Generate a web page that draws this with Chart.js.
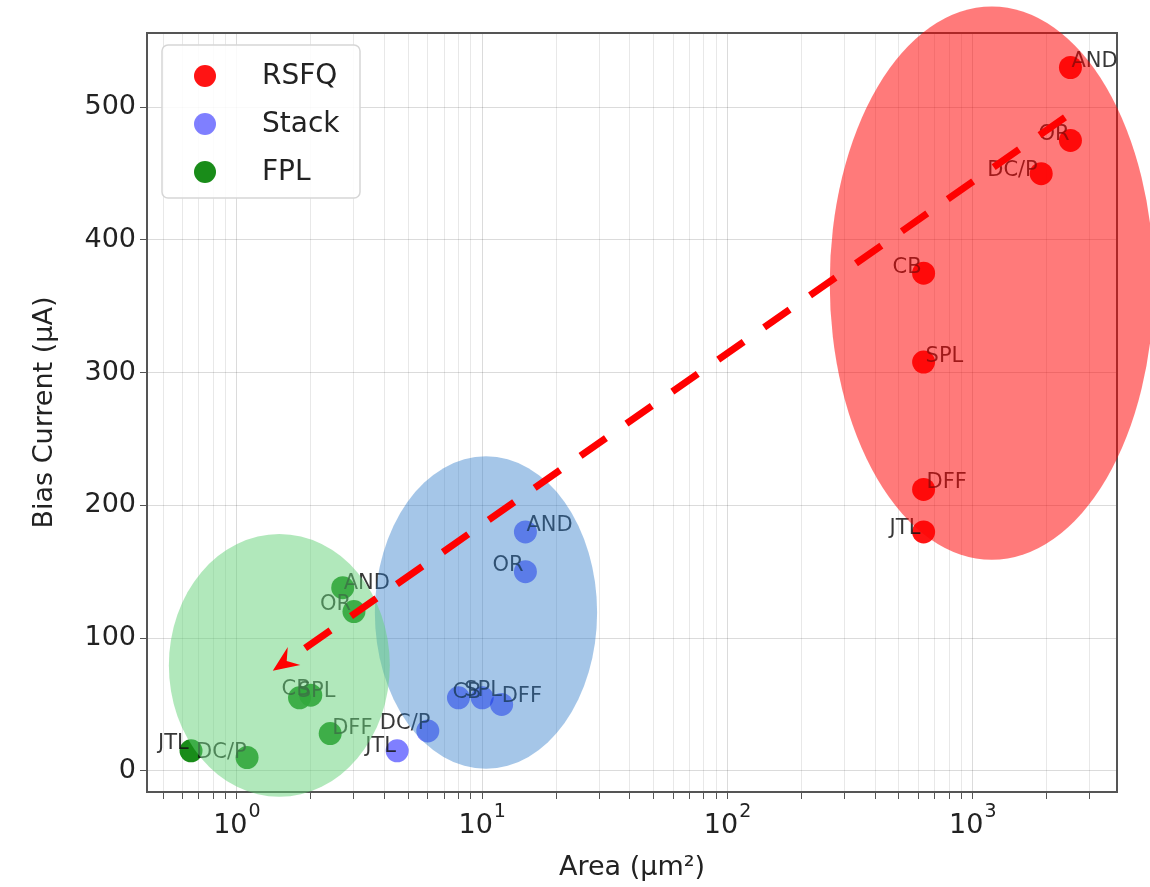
<!DOCTYPE html>
<html>
<head>
<meta charset="utf-8">
<script src="https://cdn.jsdelivr.net/npm/chart.js@4.4.0/dist/chart.umd.min.js"></script>
<style>
  html, body { margin: 0; padding: 0; background: #fff; }
  #wrap { width: 1150px; height: 887px; }
</style>
</head>
<body>
<div id="wrap"><canvas id="chart" width="1150" height="887"></canvas></div>
<script>
// gate names, same order in every group
const gateNames = ['AND', 'OR', 'DC/P', 'CB', 'SPL', 'DFF', 'JTL'];

// area (um^2) and bias current (uA) per group
const rsfqArea = [2500, 2500, 1900, 630, 630, 630, 630];
const rsfqBias = [530, 475, 450, 375, 308, 212, 180];

const stackArea = [15, 15, 6, 8, 10, 12, 4.5];
const stackBias = [180, 150, 30, 55, 55, 50, 15];

const fplArea = [2.7, 3.0, 1.1, 1.8, 2.0, 2.4, 0.65];
const fplBias = [138, 120, 10, 55, 57, 28, 15];

// axis ticks
const xDecades = [0.1, 1, 10, 100, 1000];
const yTickValues = [0, 100, 200, 300, 400, 500];

// highlighted regions, data bounds [xmin, xmax, ymin, ymax]
const rsfqRegion = [261, 5470, 159, 576];
const stackRegion = [3.65, 29.4, 1.5, 237];
const fplRegion = [0.528, 4.2, -19.6, 178.5];

// trend arrow, data coords [area, bias]
const arrowFrom = [2375, 492.5];
const arrowTo = [1.40, 75.3];

// label placement (pixel nudges, text left / baseline from point centre)
const rsfqLabelPos = [[1, -1], [-32, 0], [-54, 2], [-31, 0], [2, 0], [3, -1], [-34, 2]];
const stackLabelPos = [[1, -1], [-33, -1], [-48, -2], [-6, 0], [-18, -2], [0, -2], [-32, 1]];
const fplLabelPos = [[1, 1], [-34, -2], [-51, 0], [-18, -3], [-13, 2], [2, 0], [-33, -2]];

const FONT = 'DejaVu Sans';

function toPoints(xs, ys) {
    return xs.map((x, i) => ({ x: x, y: ys[i] }));
}

function isPow10(v) {
    const l = Math.log10(v);
    return Math.abs(l - Math.round(l)) < 1e-9;
}

const groups = [
    { label: 'RSFQ', area: rsfqArea, bias: rsfqBias, pos: rsfqLabelPos, color: 'rgba(255,0,0,0.92)' },
    { label: 'Stack', area: stackArea, bias: stackBias, pos: stackLabelPos, color: 'rgba(0,0,255,0.5)' },
    { label: 'FPL', area: fplArea, bias: fplBias, pos: fplLabelPos, color: 'rgba(0,128,0,0.9)' }
];

const regions = [
    { box: stackRegion, color: 'rgba(40,120,200,0.42)' },
    { box: fplRegion, color: 'rgba(100,210,120,0.5)' },
    { box: rsfqRegion, color: 'rgba(255,0,0,0.52)' }
];

const overlay = {
    id: 'overlay',
    beforeDatasetsDraw(chart) {
        const { ctx, chartArea: a } = chart;
        ctx.save();
        ctx.strokeStyle = '#555';
        ctx.lineWidth = 2;
        ctx.strokeRect(a.left, a.top, a.right - a.left, a.bottom - a.top);
        ctx.restore();
    },
    afterDatasetsDraw(chart) {
        const { ctx } = chart;
        const xs = chart.scales.x, ys = chart.scales.y;

        // point labels
        ctx.save();
        ctx.font = '21px "' + FONT + '"';
        ctx.fillStyle = 'rgba(20,20,20,0.85)';
        ctx.textBaseline = 'alphabetic';
        ctx.textAlign = 'left';
        groups.forEach((g, di) => {
            chart.getDatasetMeta(di).data.forEach((el, i) => {
                ctx.fillText(gateNames[i], el.x + g.pos[i][0], el.y + g.pos[i][1]);
            });
        });
        ctx.restore();

        // shaded ellipses
        ctx.save();
        regions.forEach(r => {
            const x0 = xs.getPixelForValue(r.box[0]), x1 = xs.getPixelForValue(r.box[1]);
            const y0 = ys.getPixelForValue(r.box[2]), y1 = ys.getPixelForValue(r.box[3]);
            ctx.beginPath();
            ctx.ellipse((x0 + x1) / 2, (y0 + y1) / 2, Math.abs(x1 - x0) / 2, Math.abs(y1 - y0) / 2, 0, 0, Math.PI * 2);
            ctx.fillStyle = r.color;
            ctx.fill();
        });
        ctx.restore();

        // dashed arrow
        const sx = xs.getPixelForValue(arrowFrom[0]), sy = ys.getPixelForValue(arrowFrom[1]);
        const tx = xs.getPixelForValue(arrowTo[0]), ty = ys.getPixelForValue(arrowTo[1]);
        const len = Math.hypot(tx - sx, ty - sy);
        const ux = (tx - sx) / len, uy = (ty - sy) / len;
        const nx = -uy, ny = ux;
        const headLen = 26, headW = 11;
        const bx = tx - ux * headLen, by = ty - uy * headLen;
        ctx.save();
        ctx.strokeStyle = '#ff0000';
        ctx.fillStyle = '#ff0000';
        ctx.lineWidth = 7;
        ctx.setLineDash([31, 25]);
        ctx.beginPath();
        ctx.moveTo(sx, sy);
        ctx.lineTo(bx - ux * 12, by - uy * 12);
        ctx.stroke();
        ctx.setLineDash([]);
        ctx.beginPath();
        ctx.moveTo(tx, ty);
        ctx.lineTo(bx + nx * headW, by + ny * headW);
        ctx.lineTo(tx - ux * 17, ty - uy * 17);
        ctx.lineTo(bx - nx * headW, by - ny * headW);
        ctx.closePath();
        ctx.fill();
        ctx.restore();
    },
    afterDraw(chart) {
        const { ctx, chartArea: a } = chart;
        const xs = chart.scales.x;

        // x tick labels as 10 with a raised exponent
        ctx.save();
        ctx.fillStyle = '#222';
        ctx.textBaseline = 'alphabetic';
        ctx.textAlign = 'left';
        xs.ticks.forEach(t => {
            if (!isPow10(t.value)) return;
            const px = xs.getPixelForValue(t.value);
            const exp = String(Math.round(Math.log10(t.value)));
            ctx.font = '27px "' + FONT + '"';
            const wb = ctx.measureText('10').width;
            ctx.font = '19px "' + FONT + '"';
            const we = ctx.measureText(exp).width;
            const left = px - (wb + we + 1) / 2;
            ctx.font = '27px "' + FONT + '"';
            ctx.fillText('10', left, a.bottom + 41);
            ctx.font = '19px "' + FONT + '"';
            ctx.fillText(exp, left + wb + 1, a.bottom + 25);
        });
        ctx.restore();

        // legend
        const x0 = a.left + 15, y0 = a.top + 12, w = 198, h = 153;
        ctx.save();
        ctx.beginPath();
        ctx.roundRect(x0, y0, w, h, 6);
        ctx.fillStyle = 'rgba(255,255,255,0.85)';
        ctx.fill();
        ctx.strokeStyle = '#d6d6d6';
        ctx.lineWidth = 1.5;
        ctx.stroke();
        ctx.font = '28px "' + FONT + '"';
        ctx.textBaseline = 'middle';
        ctx.textAlign = 'left';
        groups.forEach((g, i) => {
            const cy = y0 + 31 + i * 48;
            ctx.beginPath();
            ctx.arc(x0 + 43, cy, 11, 0, Math.PI * 2);
            ctx.fillStyle = g.color;
            ctx.fill();
            ctx.fillStyle = '#222';
            ctx.fillText(g.label, x0 + 100, cy + 1);
        });
        ctx.restore();
    }
};

new Chart('chart', {
    type: 'scatter',
    data: {
        datasets: groups.map(g => ({
            label: g.label,
            data: toPoints(g.area, g.bias),
            backgroundColor: g.color,
            borderWidth: 0,
            pointRadius: 11.5,
            pointHoverRadius: 11.5
        }))
    },
    options: {
        responsive: false,
        animation: false,
        layout: { padding: { top: 33, right: 33, left: 0, bottom: 0 } },
        plugins: {
            legend: { display: false },
            tooltip: { enabled: false }
        },
        scales: {
            x: {
                type: 'logarithmic',
                min: 0.43,
                max: 3870,
                afterFit: s => { s.height = 95; },
                afterBuildTicks: s => {
                    const t = [];
                    xDecades.forEach(d => {
                        for (let m = 1; m <= 9; m++) {
                            const v = +(d * m).toPrecision(6);
                            if (v >= s.min && v <= s.max) t.push({ value: v, major: isPow10(v) });
                        }
                    });
                    s.ticks = t;
                },
                grid: {
                    color: c => (c.tick && isPow10(c.tick.value)) ? 'rgba(0,0,0,0.14)' : 'rgba(0,0,0,0.09)',
                    tickColor: '#555',
                    tickLength: 7
                },
                border: { color: '#555', width: 2 },
                ticks: {
                    autoSkip: false,
                    maxRotation: 0,
                    color: '#222',
                    padding: 4,
                    font: { family: FONT, size: 27 },
                    callback: () => ''
                },
                title: {
                    display: true,
                    text: 'Area (μm²)',
                    color: '#222',
                    font: { family: FONT, size: 27 },
                    padding: { top: 0, bottom: 3 }
                }
            },
            y: {
                min: -16,
                max: 556,
                afterFit: s => { s.width = 147; },
                afterBuildTicks: s => { s.ticks = yTickValues.map(v => ({ value: v })); },
                grid: {
                    color: 'rgba(0,0,0,0.14)',
                    tickColor: '#555',
                    tickLength: 7
                },
                border: { color: '#555', width: 2 },
                ticks: {
                    color: '#222',
                    padding: 4,
                    font: { family: FONT, size: 27 }
                },
                title: {
                    display: true,
                    text: 'Bias Current (μA)',
                    color: '#222',
                    font: { family: FONT, size: 27 },
                    padding: { top: 29, bottom: 0 }
                }
            }
        }
    },
    plugins: [overlay]
});
</script>
</body>
</html>
